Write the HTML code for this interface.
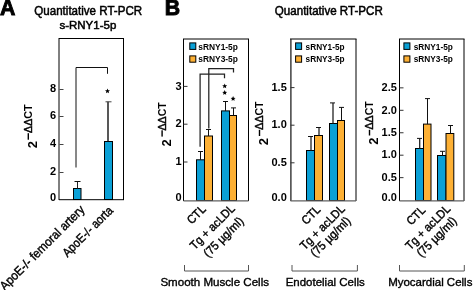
<!DOCTYPE html>
<html><head><meta charset="utf-8"><style>
html,body{margin:0;padding:0;background:#fff;overflow:hidden;}
svg{display:block;will-change:transform;font-family:"Liberation Sans", sans-serif;}
</style></head><body>
<svg width="473" height="290" viewBox="0 0 473 290">
<rect width="473" height="290" fill="#fff"/>
<text x="-0.1" y="14.7" font-size="21.3" font-weight="bold" text-anchor="start" fill="#000" stroke="#000" stroke-width="0.9" >A</text>
<text x="34.3" y="14.7" font-size="12" font-weight="normal" text-anchor="start" fill="#000" textLength="107.8" lengthAdjust="spacingAndGlyphs" stroke="#000" stroke-width="0.5" >Quantitative RT-PCR</text>
<text x="59.4" y="28.9" font-size="11.5" font-weight="normal" text-anchor="start" fill="#000" textLength="56.9" lengthAdjust="spacingAndGlyphs" stroke="#000" stroke-width="0.5" >s-RNY1-5p</text>
<line x1="59" y1="38.5" x2="124" y2="38.5" stroke="#000" stroke-width="1"/>
<line x1="123.5" y1="38" x2="123.5" y2="200" stroke="#000" stroke-width="1"/>
<line x1="59" y1="38" x2="59" y2="200" stroke="#000" stroke-width="1"/>
<line x1="59" y1="199.7" x2="124" y2="199.7" stroke="#000" stroke-width="1"/>
<line x1="59.5" y1="172.5" x2="63.5" y2="172.5" stroke="#444" stroke-width="1"/>
<text x="56" y="175.2" font-size="11" font-weight="bold" text-anchor="end" fill="#000" >2</text>
<line x1="59.5" y1="144.5" x2="63.5" y2="144.5" stroke="#444" stroke-width="1"/>
<text x="56" y="147.2" font-size="11" font-weight="bold" text-anchor="end" fill="#000" >4</text>
<line x1="59.5" y1="116.5" x2="63.5" y2="116.5" stroke="#444" stroke-width="1"/>
<text x="56" y="119.2" font-size="11" font-weight="bold" text-anchor="end" fill="#000" >6</text>
<line x1="59.5" y1="89.5" x2="63.5" y2="89.5" stroke="#444" stroke-width="1"/>
<text x="56" y="92.2" font-size="11" font-weight="bold" text-anchor="end" fill="#000" >8</text>
<text x="56" y="200.6" font-size="11" font-weight="bold" text-anchor="end" fill="#000" >0</text>
<g transform="translate(36.6,148.3) rotate(-90)"><text x="0" y="0" font-size="13" font-weight="bold">2</text></g>
<rect x="27.6" y="133.2" width="1.4" height="6.5" fill="#000"/>
<g transform="translate(31.6,133.0) rotate(-90)"><text x="0" y="0" font-size="11.4" font-weight="bold" textLength="28.700000000000003" lengthAdjust="spacingAndGlyphs"><tspan font-weight="normal" stroke="#000" stroke-width="0.45">ΔΔ</tspan>CT</text></g>
<rect x="73.5" y="188.5" width="7.5" height="11.0" fill="#0aa0d6" stroke="#000" stroke-width="1"/>
<line x1="77.5" y1="181.5" x2="77.5" y2="188.5" stroke="#222" stroke-width="1"/>
<line x1="74.5" y1="181.5" x2="80.5" y2="181.5" stroke="#111" stroke-width="1"/>
<rect x="104.5" y="141.5" width="8" height="58.0" fill="#0aa0d6" stroke="#000" stroke-width="1"/>
<line x1="108.0" y1="101.8" x2="108.0" y2="141.5" stroke="#111" stroke-width="1.4"/>
<line x1="105.5" y1="101.8" x2="111.5" y2="101.8" stroke="#444" stroke-width="1"/>
<polyline points="76,167.5 76,67.5 107.5,67.5 107.5,73.8" fill="none" stroke="#111" stroke-width="1"/>
<polygon points="107.50,88.50 108.21,90.13 109.97,90.30 108.64,91.47 109.03,93.20 107.50,92.30 105.97,93.20 106.36,91.47 105.03,90.30 106.79,90.13" fill="#000"/>
<g transform="translate(85.4,210.3) rotate(-45)"><text font-size="12.5" font-weight="normal" text-anchor="end" x="0" y="0" textLength="114.2" lengthAdjust="spacingAndGlyphs" stroke="#000" stroke-width="0.4">ApoE-/- femoral artery</text></g>
<g transform="translate(113.8,211.3) rotate(-45)"><text font-size="12.5" font-weight="normal" text-anchor="end" x="0" y="0" textLength="65.6" lengthAdjust="spacingAndGlyphs" stroke="#000" stroke-width="0.4">ApoE-/- aorta</text></g>
<text x="164.7" y="14.7" font-size="21.3" font-weight="bold" text-anchor="start" fill="#000" stroke="#000" stroke-width="0.9" >B</text>
<text x="274.8" y="14.7" font-size="12" font-weight="normal" text-anchor="start" fill="#000" textLength="108" lengthAdjust="spacingAndGlyphs" stroke="#000" stroke-width="0.5" >Quantitative RT-PCR</text>
<line x1="183.0" y1="39" x2="249.0" y2="39" stroke="#000" stroke-width="1"/>
<line x1="248.5" y1="39" x2="248.5" y2="201.0" stroke="#000" stroke-width="1"/>
<line x1="183.5" y1="39" x2="183.5" y2="201.0" stroke="#000" stroke-width="1"/>
<text x="181.6" y="201.0" font-size="11" font-weight="bold" text-anchor="end" fill="#000" >0</text>
<line x1="183.5" y1="162.0" x2="187.5" y2="162.0" stroke="#333" stroke-width="1"/>
<text x="181.6" y="165.2" font-size="11" font-weight="bold" text-anchor="end" fill="#000" >1</text>
<line x1="183.5" y1="124.20000000000002" x2="187.5" y2="124.20000000000002" stroke="#333" stroke-width="1"/>
<text x="181.6" y="127.40000000000002" font-size="11" font-weight="bold" text-anchor="end" fill="#000" >2</text>
<line x1="183.5" y1="86.40000000000002" x2="187.5" y2="86.40000000000002" stroke="#333" stroke-width="1"/>
<text x="181.6" y="89.60000000000002" font-size="11" font-weight="bold" text-anchor="end" fill="#000" >3</text>
<rect x="189.8" y="42.9" width="6" height="6.5" fill="#0aa0d6" stroke="#000" stroke-width="1"/>
<rect x="189.8" y="55.9" width="6" height="6.3" fill="#fdb034" stroke="#000" stroke-width="1"/>
<text x="198.29999999999998" y="49.6" font-size="9" font-weight="bold" text-anchor="start" fill="#000" textLength="39.6" lengthAdjust="spacingAndGlyphs" >sRNY1-5p</text>
<text x="198.29999999999998" y="62.3" font-size="9" font-weight="bold" text-anchor="start" fill="#000" textLength="39.6" lengthAdjust="spacingAndGlyphs" >sRNY3-5p</text>
<rect x="196.5" y="159.8" width="8" height="40.69999999999999" fill="#0aa0d6" stroke="#000" stroke-width="1"/>
<rect x="204.5" y="136" width="8" height="64.5" fill="#fdb034" stroke="#000" stroke-width="1"/>
<rect x="221.5" y="110.9" width="8" height="89.6" fill="#0aa0d6" stroke="#000" stroke-width="1"/>
<rect x="229.5" y="115.5" width="7" height="85.0" fill="#fdb034" stroke="#000" stroke-width="1"/>
<line x1="183.5" y1="200.8" x2="248.5" y2="200.8" stroke="#606060" stroke-width="1.3"/>
<line x1="200.5" y1="151.5" x2="200.5" y2="159.8" stroke="#111" stroke-width="1"/>
<line x1="198.0" y1="151.5" x2="203.0" y2="151.5" stroke="#111" stroke-width="1"/>
<line x1="208.5" y1="129.5" x2="208.5" y2="136" stroke="#111" stroke-width="1"/>
<line x1="206.0" y1="129.5" x2="211.0" y2="129.5" stroke="#111" stroke-width="1"/>
<line x1="225.5" y1="101.5" x2="225.5" y2="110.9" stroke="#111" stroke-width="1"/>
<line x1="223.0" y1="101.5" x2="228.0" y2="101.5" stroke="#111" stroke-width="1"/>
<line x1="233.5" y1="107.9" x2="233.5" y2="115.5" stroke="#111" stroke-width="1"/>
<line x1="231.0" y1="107.9" x2="236.0" y2="107.9" stroke="#111" stroke-width="1"/>
<polyline points="184.5,265 184.5,271 248.5,271 248.5,265" fill="none" stroke="#555" stroke-width="1"/>
<text x="160.4" y="286.2" font-size="11" font-weight="normal" text-anchor="start" fill="#000" textLength="108.6" lengthAdjust="spacingAndGlyphs" stroke="#000" stroke-width="0.35" >Smooth Muscle Cells</text>
<g transform="translate(171.2,146.4) rotate(-90)"><text x="0" y="0" font-size="13" font-weight="bold">2</text></g>
<rect x="161.4" y="130.3" width="1.4" height="6.299999999999983" fill="#000"/>
<g transform="translate(165.5,130.5) rotate(-90)"><text x="0" y="0" font-size="11.4" font-weight="bold" textLength="28.299999999999997" lengthAdjust="spacingAndGlyphs"><tspan font-weight="normal" stroke="#000" stroke-width="0.45">ΔΔ</tspan>CT</text></g>
<line x1="290.0" y1="39" x2="356.5" y2="39" stroke="#000" stroke-width="1"/>
<line x1="356" y1="39" x2="356" y2="201.0" stroke="#000" stroke-width="1"/>
<line x1="290.9" y1="39" x2="290.9" y2="201.0" stroke="#222" stroke-width="1.3"/>
<text x="286.8" y="201.0" font-size="11" font-weight="bold" text-anchor="end" fill="#000" >0.0</text>
<line x1="290.5" y1="162.8" x2="294.5" y2="162.8" stroke="#333" stroke-width="1"/>
<text x="286.8" y="166.0" font-size="11" font-weight="bold" text-anchor="end" fill="#000" >0.5</text>
<line x1="290.5" y1="125.2" x2="294.5" y2="125.2" stroke="#333" stroke-width="1"/>
<text x="286.8" y="128.4" font-size="11" font-weight="bold" text-anchor="end" fill="#000" >1.0</text>
<line x1="290.5" y1="87.6" x2="294.5" y2="87.6" stroke="#333" stroke-width="1"/>
<text x="286.8" y="90.8" font-size="11" font-weight="bold" text-anchor="end" fill="#000" >1.5</text>
<rect x="295.6" y="42.9" width="6" height="6.5" fill="#0aa0d6" stroke="#000" stroke-width="1"/>
<rect x="295.6" y="55.9" width="6" height="6.3" fill="#fdb034" stroke="#000" stroke-width="1"/>
<text x="305.59999999999997" y="49.6" font-size="9" font-weight="bold" text-anchor="start" fill="#000" textLength="39" lengthAdjust="spacingAndGlyphs" >sRNY1-5p</text>
<text x="305.59999999999997" y="62.3" font-size="9" font-weight="bold" text-anchor="start" fill="#000" textLength="39" lengthAdjust="spacingAndGlyphs" >sRNY3-5p</text>
<rect x="306.5" y="150.5" width="8" height="50.0" fill="#0aa0d6" stroke="#000" stroke-width="1"/>
<rect x="314.5" y="135.5" width="8" height="65.0" fill="#fdb034" stroke="#000" stroke-width="1"/>
<rect x="329.5" y="123.5" width="8" height="77.0" fill="#0aa0d6" stroke="#000" stroke-width="1"/>
<rect x="337.5" y="120.5" width="7" height="80.0" fill="#fdb034" stroke="#000" stroke-width="1"/>
<line x1="290.5" y1="200.8" x2="356" y2="200.8" stroke="#606060" stroke-width="1.3"/>
<line x1="311" y1="136.5" x2="311" y2="150.5" stroke="#222" stroke-width="1.3"/>
<line x1="308.0" y1="136.5" x2="313.0" y2="136.5" stroke="#111" stroke-width="1"/>
<line x1="319" y1="127.5" x2="319" y2="135.5" stroke="#222" stroke-width="1.3"/>
<line x1="316.0" y1="127.5" x2="321.0" y2="127.5" stroke="#111" stroke-width="1"/>
<line x1="333" y1="102.9" x2="333" y2="123.5" stroke="#222" stroke-width="1.3"/>
<line x1="330.0" y1="102.9" x2="335.0" y2="102.9" stroke="#111" stroke-width="1"/>
<line x1="341.5" y1="107.4" x2="341.5" y2="120.5" stroke="#111" stroke-width="1"/>
<line x1="339.0" y1="107.4" x2="344.0" y2="107.4" stroke="#111" stroke-width="1"/>
<polyline points="292,265 292,271 357.4,271 357.4,265" fill="none" stroke="#555" stroke-width="1"/>
<text x="285.7" y="286.2" font-size="11" font-weight="normal" text-anchor="start" fill="#000" textLength="79.1" lengthAdjust="spacingAndGlyphs" stroke="#000" stroke-width="0.35" >Endotelial Cells</text>
<g transform="translate(268.1,145.20000000000002) rotate(-90)"><text x="0" y="0" font-size="13" font-weight="bold">2</text></g>
<rect x="258.8" y="129.8" width="1.4" height="6.199999999999989" fill="#000"/>
<g transform="translate(262.6,129.7) rotate(-90)"><text x="0" y="0" font-size="11.4" font-weight="bold" textLength="28.299999999999983" lengthAdjust="spacingAndGlyphs"><tspan font-weight="normal" stroke="#000" stroke-width="0.45">ΔΔ</tspan>CT</text></g>
<line x1="399.0" y1="39" x2="464.5" y2="39" stroke="#000" stroke-width="1"/>
<line x1="464" y1="39" x2="464" y2="201.0" stroke="#000" stroke-width="1"/>
<line x1="399.5" y1="39" x2="399.5" y2="201.0" stroke="#000" stroke-width="1"/>
<text x="396.9" y="201.0" font-size="11" font-weight="bold" text-anchor="end" fill="#000" >0.0</text>
<line x1="399.5" y1="177.65" x2="403.5" y2="177.65" stroke="#333" stroke-width="1"/>
<text x="396.9" y="180.85" font-size="11" font-weight="bold" text-anchor="end" fill="#000" >0.5</text>
<line x1="399.5" y1="155.2" x2="403.5" y2="155.2" stroke="#333" stroke-width="1"/>
<text x="396.9" y="158.39999999999998" font-size="11" font-weight="bold" text-anchor="end" fill="#000" >1.0</text>
<line x1="399.5" y1="132.75" x2="403.5" y2="132.75" stroke="#333" stroke-width="1"/>
<text x="396.9" y="135.95" font-size="11" font-weight="bold" text-anchor="end" fill="#000" >1.5</text>
<line x1="399.5" y1="110.3" x2="403.5" y2="110.3" stroke="#333" stroke-width="1"/>
<text x="396.9" y="113.5" font-size="11" font-weight="bold" text-anchor="end" fill="#000" >2.0</text>
<line x1="399.5" y1="87.85" x2="403.5" y2="87.85" stroke="#333" stroke-width="1"/>
<text x="396.9" y="91.05" font-size="11" font-weight="bold" text-anchor="end" fill="#000" >2.5</text>
<rect x="403.9" y="42.9" width="6" height="6.5" fill="#0aa0d6" stroke="#000" stroke-width="1"/>
<rect x="403.9" y="55.9" width="6" height="6.3" fill="#fdb034" stroke="#000" stroke-width="1"/>
<text x="413.7" y="49.6" font-size="9" font-weight="bold" text-anchor="start" fill="#000" textLength="39.2" lengthAdjust="spacingAndGlyphs" >sRNY1-5p</text>
<text x="413.7" y="62.3" font-size="9" font-weight="bold" text-anchor="start" fill="#000" textLength="39.2" lengthAdjust="spacingAndGlyphs" >sRNY3-5p</text>
<rect x="415.5" y="148.5" width="8" height="52.0" fill="#0aa0d6" stroke="#000" stroke-width="1"/>
<rect x="423.5" y="124.1" width="7.5" height="76.4" fill="#fdb034" stroke="#000" stroke-width="1"/>
<rect x="437.5" y="155.5" width="8.5" height="45.0" fill="#0aa0d6" stroke="#000" stroke-width="1"/>
<rect x="446" y="133.5" width="7.8" height="67.0" fill="#fdb034" stroke="#000" stroke-width="1"/>
<line x1="399.5" y1="200.8" x2="464" y2="200.8" stroke="#606060" stroke-width="1.3"/>
<line x1="419.7" y1="138.4" x2="419.7" y2="148.5" stroke="#222" stroke-width="1.3"/>
<line x1="417.0" y1="138.4" x2="422.0" y2="138.4" stroke="#111" stroke-width="1"/>
<line x1="427.5" y1="98.6" x2="427.5" y2="124.1" stroke="#111" stroke-width="1"/>
<line x1="425.0" y1="98.6" x2="430.0" y2="98.6" stroke="#111" stroke-width="1"/>
<line x1="442.5" y1="151.3" x2="442.5" y2="155.5" stroke="#111" stroke-width="1"/>
<line x1="440.0" y1="151.3" x2="445.0" y2="151.3" stroke="#111" stroke-width="1"/>
<line x1="450.5" y1="125.5" x2="450.5" y2="133.5" stroke="#111" stroke-width="1"/>
<line x1="448.0" y1="125.5" x2="453.0" y2="125.5" stroke="#111" stroke-width="1"/>
<polyline points="399.5,265 399.5,271 464.3,271 464.3,265" fill="none" stroke="#555" stroke-width="1"/>
<text x="388.2" y="286.2" font-size="11" font-weight="normal" text-anchor="start" fill="#000" textLength="84.2" lengthAdjust="spacingAndGlyphs" stroke="#000" stroke-width="0.35" >Myocardial Cells</text>
<g transform="translate(378.1,144.70000000000002) rotate(-90)"><text x="0" y="0" font-size="13" font-weight="bold">2</text></g>
<rect x="368.8" y="129.8" width="1.4" height="5.699999999999989" fill="#000"/>
<g transform="translate(372.7,129.5) rotate(-90)"><text x="0" y="0" font-size="11.4" font-weight="bold" textLength="28.299999999999997" lengthAdjust="spacingAndGlyphs"><tspan font-weight="normal" stroke="#000" stroke-width="0.45">ΔΔ</tspan>CT</text></g>
<polyline points="200.1,146.7 200.1,74 224.5,74 224.5,78.2" fill="none" stroke="#222" stroke-width="1.25"/>
<polyline points="208.8,128.6 208.8,68.6 233.5,68.6 233.5,72.4" fill="none" stroke="#222" stroke-width="1.25"/>
<polygon points="224.70,83.50 225.41,85.13 227.17,85.30 225.84,86.47 226.23,88.20 224.70,87.30 223.17,88.20 223.56,86.47 222.23,85.30 223.99,85.13" fill="#000"/>
<polygon points="224.70,90.10 225.41,91.73 227.17,91.90 225.84,93.07 226.23,94.80 224.70,93.90 223.17,94.80 223.56,93.07 222.23,91.90 223.99,91.73" fill="#000"/>
<polygon points="233.10,96.10 233.81,97.73 235.57,97.90 234.24,99.07 234.63,100.80 233.10,99.90 231.57,100.80 231.96,99.07 230.63,97.90 232.39,97.73" fill="#000"/>
<g transform="translate(206.5,210) rotate(-45)"><text font-size="12" font-weight="normal" text-anchor="end" x="0" y="0" textLength="21" lengthAdjust="spacingAndGlyphs" stroke="#000" stroke-width="0.4">CTL</text></g>
<g transform="translate(235.6,209.3) rotate(-45)"><text font-size="12" font-weight="normal" text-anchor="end" x="0" y="0" textLength="57.8" lengthAdjust="spacingAndGlyphs" stroke="#000" stroke-width="0.4">Tg + acLDL</text></g>
<g transform="translate(244.3,221.9) rotate(-45)"><text font-size="12" font-weight="normal" text-anchor="end" x="0" y="0" textLength="51" lengthAdjust="spacingAndGlyphs" stroke="#000" stroke-width="0.4">(75 µg/ml)</text></g>
<g transform="translate(321.2,210.3) rotate(-45)"><text font-size="12" font-weight="normal" text-anchor="end" x="0" y="0" textLength="21" lengthAdjust="spacingAndGlyphs" stroke="#000" stroke-width="0.4">CTL</text></g>
<g transform="translate(345.6,209.6) rotate(-45)"><text font-size="12" font-weight="normal" text-anchor="end" x="0" y="0" textLength="57.8" lengthAdjust="spacingAndGlyphs" stroke="#000" stroke-width="0.4">Tg + acLDL</text></g>
<g transform="translate(351.3,221.7) rotate(-45)"><text font-size="12" font-weight="normal" text-anchor="end" x="0" y="0" textLength="51" lengthAdjust="spacingAndGlyphs" stroke="#000" stroke-width="0.4">(75 µg/ml)</text></g>
<g transform="translate(426.1,211) rotate(-45)"><text font-size="12" font-weight="normal" text-anchor="end" x="0" y="0" textLength="21" lengthAdjust="spacingAndGlyphs" stroke="#000" stroke-width="0.4">CTL</text></g>
<g transform="translate(451.1,209.6) rotate(-45)"><text font-size="12" font-weight="normal" text-anchor="end" x="0" y="0" textLength="57.8" lengthAdjust="spacingAndGlyphs" stroke="#000" stroke-width="0.4">Tg + acLDL</text></g>
<g transform="translate(457.5,221.7) rotate(-45)"><text font-size="12" font-weight="normal" text-anchor="end" x="0" y="0" textLength="51" lengthAdjust="spacingAndGlyphs" stroke="#000" stroke-width="0.4">(75 µg/ml)</text></g>
</svg>
</body></html>
